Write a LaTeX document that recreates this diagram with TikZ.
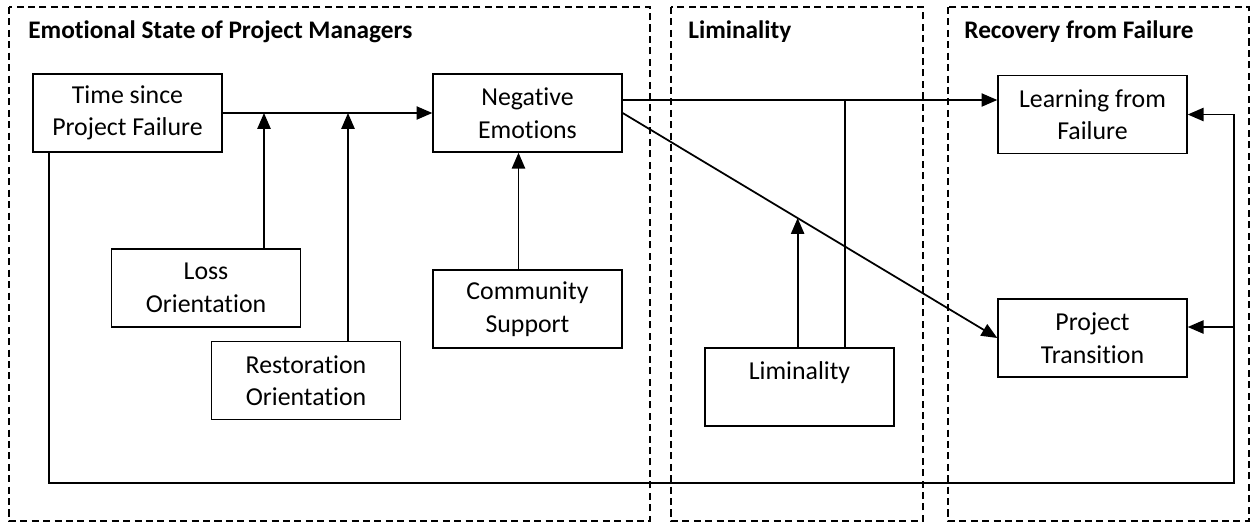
\documentclass[tikz,border=0pt]{standalone}
\usepackage{fontspec}
\setmainfont{Carlito}[Ligatures=NoCommon]
\usepackage{tikz}
\usetikzlibrary{arrows.meta, positioning, calc}

\begin{document}
\begin{tikzpicture}[x=0.02cm, y=-0.02cm,
    box/.style={draw, line width=0.8pt, minimum width=3.78cm, minimum height=1.56cm,
        inner sep=0pt, align=center, font=\fontsize{14.7}{18.5}\selectfont},
    group/.style={draw, line width=0.6pt, dash pattern=on 4pt off 2.5pt},
    title/.style={anchor=base west, inner sep=0pt, font=\fontsize{14.4}{16}\selectfont\bfseries},
    arrow/.style={line width=1pt, -{Triangle[length=9pt, width=7.5pt]}},
    link/.style={line width=1pt}]
    \useasboundingbox (0, 0) rectangle (1251, 525);

    % Groups
    \draw[group] (9, 7) rectangle (650, 521);
    \draw[group] (671, 7) rectangle (923, 521);
    \draw[group] (948, 7) rectangle (1249, 521);
    \node[title] (tEmo) at (28, 38) {Emotional State of Project Managers};
    \node[title] (tLim) at (688, 38) {Liminality};
    \node[title] (tRec) at (964, 38) {Recovery from Failure};

    % Boxes
    \node[box] (time) at (127.5, 113) {Time since\\Project Failure};
    \node[box] (neg) at (527.5, 113) {Negative\\Emotions};
    \node[box] (loss) at (206, 288) {Loss\\Orientation};
    \node[box] (rest) at (306, 380.5) {Restoration\\Orientation};
    \node[box] (comm) at (527.5, 309) {Community\\Support};
    \node[box] (lim) at (799.5, 387) {Liminality\\~};
    \node[box] (learn) at (1092.5, 114.5) {Learning from\\Failure};
    \node[box] (proj) at (1092.5, 338) {Project\\Transition};

    % Points on the paths
    \coordinate (m1) at (264, 113);
    \coordinate (m2) at (348, 113);
    \coordinate (m3) at ($(neg.east)!0.467!(proj.west)$);
    \coordinate (m4) at (845, 100);
    \coordinate (loopL) at (49, 483);
    \coordinate (loopR) at (1234, 483);

    % Arrows
    \draw[arrow] (time) -- (neg);
    \draw[arrow] (loss.north -| m1) -- (m1);
    \draw[arrow] (rest.north -| m2) -- (m2);
    \draw[arrow] ([xshift=-0.18cm]comm.north) -- ([xshift=-0.18cm]neg.south);
    \draw[arrow] ([yshift=0.26cm]neg.east) -- ([yshift=0.26cm]neg.east -| learn.west);
    \draw[arrow] (neg.east) -- (proj.west);
    \draw[arrow] (lim.north -| m3) -- (m3);
    \draw[link] (lim.north -| m4) -- (m4);

    % Feedback loop
    \draw[arrow] (time.south -| loopL) -- (loopL) -- (loopR) |- (learn.east);
    \draw[arrow] ([yshift=0.22cm]proj.east -| loopR) -- ([yshift=0.22cm]proj.east);
\end{tikzpicture}
\end{document}
